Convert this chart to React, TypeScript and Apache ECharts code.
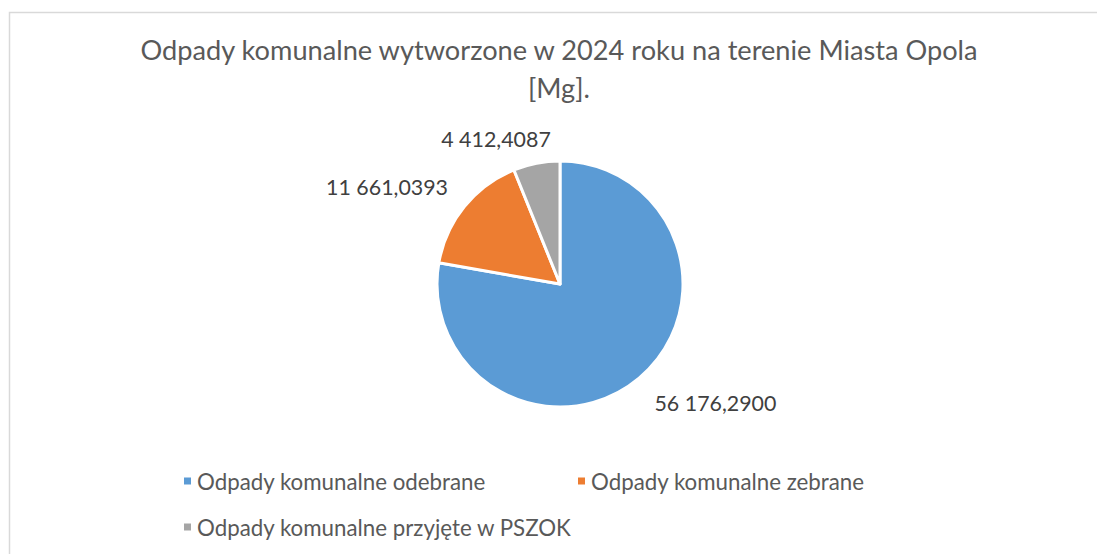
import React, { useEffect, useRef } from "react";
import * as echarts from "echarts";

const titleText = "Odpady komunalne wytworzone w 2024 roku na terenie Miasta Opola\n[Mg].";
const categories = [
  "Odpady komunalne odebrane",
  "Odpady komunalne zebrane",
  "Odpady komunalne przyjęte w PSZOK",
];
const values = [56176.29, 11661.0393, 4412.4087];
const colors = ["#5b9bd5", "#ed7d31", "#a5a5a5"];

const fmt = (v: number) => {
  const [i, d] = v.toFixed(4).split(".");
  const grouped = i.replace(/\B(?=(\d{3})+(?!\d))/g, " ");
  return grouped + "," + d;
};

const FONT = "Lato, 'Liberation Sans', sans-serif";

export default function App() {
  const ref = useRef<HTMLDivElement>(null);
  useEffect(() => {
    if (!ref.current) return;
    const chart = echarts.init(ref.current, undefined, { renderer: "svg" });
    const labelOffsets: number[][] = [[-4, 2], [7, -1], [20, 5]];
    chart.setOption({
      animation: false,
      backgroundColor: "#ffffff",
      graphic: [
        {
          type: "rect",
          shape: { x: 9.5, y: 12.5, width: 1200, height: 700 },
          style: { fill: "none", stroke: "#d9d9d9", lineWidth: 1.5 },
          silent: true,
        },
      ],
      title: {
        text: titleText,
        left: 554,
        top: 25,
        textAlign: "center",
        textStyle: {
          fontFamily: FONT,
          fontSize: 27.2,
          fontWeight: "normal",
          color: "#595959",
          lineHeight: 38,
        },
      },
      legend: {
        left: 177,
        top: 461,
        width: 820,
        orient: "horizontal",
        icon: "rect",
        itemWidth: 9,
        itemHeight: 9,
        itemGap: 16,
        data: categories,
        textStyle: {
          fontFamily: FONT,
          fontSize: 22.3,
          color: "#595959",
          width: 363,
          lineHeight: 30,
        },
      },
      series: [
        {
          type: "pie",
          center: [560, 284],
          radius: 123,
          startAngle: 90,
          clockwise: true,
          avoidLabelOverlap: false,
          itemStyle: { borderColor: "#ffffff", borderWidth: 3 },
          label: {
            show: true,
            position: "outside",
            fontFamily: FONT,
            fontSize: 21.4,
            color: "#404040",
            distanceToLabelLine: 0,
            formatter: (p: any) => fmt(p.value),
          },
          labelLine: { show: false, length: 30, length2: 0 },
          emphasis: { disabled: true },
          data: categories.map((name, i) => ({
            name,
            value: values[i],
            itemStyle: { color: colors[i] },
            label: { offset: labelOffsets[i] },
          })),
        },
      ],
    });
    return () => chart.dispose();
  }, []);
  return (
    <div
      ref={ref}
      style={{ position: "absolute", left: 0, top: 0, width: 1097, height: 554 }}
    />
  );
}
